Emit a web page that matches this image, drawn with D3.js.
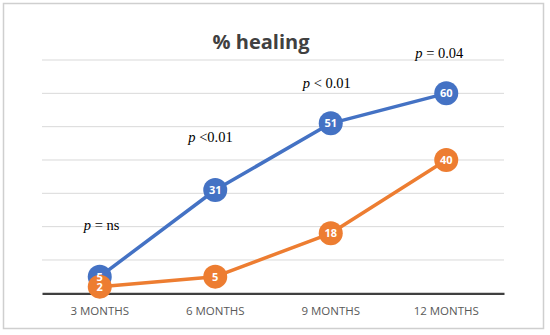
<!DOCTYPE html>
<html><head><meta charset="utf-8">
<script src="https://cdn.jsdelivr.net/npm/d3@7"></script>
<style>body{margin:0;background:#fff}svg{display:block}</style>
</head><body>
<script>
const categories = ["3 MONTHS", "6 MONTHS", "9 MONTHS", "12 MONTHS"];
const seriesA = [5, 31, 51, 60];
const seriesB = [2, 5, 18, 40];
const yTicks = [0, 10, 20, 30, 40, 50, 60, 70];
const pLabels = [
  {cat: "3 MONTHS", rest: " = ns", value: 19, dx: -16},
  {cat: "6 MONTHS", rest: " <0.01", value: 45.5, dx: -27},
  {cat: "9 MONTHS", rest: " < 0.01", value: 61.5, dx: -28},
  {cat: "12 MONTHS", rest: " = 0.04", value: 70.5, dx: -31}
];

const W = 550, H = 335;
const svg = d3.select("body").append("svg").attr("width", W).attr("height", H);
svg.append("rect").attr("x", 3.5).attr("y", 3.5).attr("width", 540).attr("height", 325)
  .attr("fill", "#fff").attr("stroke", "#cfcfcf").attr("stroke-width", 1.5);

const x = d3.scaleBand().domain(categories).range([42, 504]);
const y = d3.scaleLinear().domain([0, 70]).range([293.3, 60]);
const cx = c => x(c) + x.bandwidth() / 2;

// gridlines
svg.append("g").selectAll("line").data(yTicks.filter(d => d > 0)).join("line")
  .attr("x1", 42).attr("x2", 504).attr("y1", d => y(d)).attr("y2", d => y(d))
  .attr("stroke", "#d9d9d9").attr("stroke-width", 1);

// x axis
const xAxis = svg.append("g").attr("transform", `translate(0,${y(0)})`)
  .call(d3.axisBottom(x).tickSize(0).tickPadding(14));
xAxis.select(".domain").attr("stroke", "#404040").attr("stroke-width", 2.2);
xAxis.selectAll("text").attr("font-family", "Open Sans, Liberation Sans, sans-serif")
  .attr("font-size", 11.5).attr("fill", "#595959");

// title
svg.append("text").attr("x", 261).attr("y", 49).attr("text-anchor", "middle")
  .attr("font-family", "Open Sans, Liberation Sans, sans-serif").attr("font-weight", "bold")
  .attr("font-size", 20).attr("fill", "#404040").text("% healing");

// p-value annotations
const pt = svg.append("g").selectAll("text").data(pLabels).join("text")
  .attr("x", d => cx(d.cat) + d.dx).attr("y", d => y(d.value))
  .attr("font-family", "Liberation Serif, DejaVu Serif, serif").attr("font-size", 14.5).attr("fill", "#000");
pt.append("tspan").attr("font-style", "italic").text("p");
pt.append("tspan").text(d => d.rest);

const line = d3.line().x((d, i) => cx(categories[i])).y(d => y(d));
const series = [{vals: seriesA, color: "#4472C4"}, {vals: seriesB, color: "#ED7D31"}];
series.forEach(s => {
  svg.append("path").datum(s.vals).attr("d", line).attr("fill", "none")
    .attr("stroke", s.color).attr("stroke-width", 3.5).attr("stroke-linejoin", "round");
  svg.append("g").selectAll("circle").data(s.vals).join("circle")
    .attr("cx", (d, i) => cx(categories[i])).attr("cy", d => y(d)).attr("r", 12)
    .attr("fill", s.color);
});
series.forEach(s => {
  svg.append("g").selectAll("text").data(s.vals).join("text")
    .attr("x", (d, i) => cx(categories[i])).attr("y", d => y(d)).attr("dy", "0.36em")
    .attr("text-anchor", "middle").attr("font-family", "Open Sans, Liberation Sans, sans-serif")
    .attr("font-weight", "bold").attr("font-size", 11).attr("fill", "#fff").text(d => d);
});
</script>
</body></html>
